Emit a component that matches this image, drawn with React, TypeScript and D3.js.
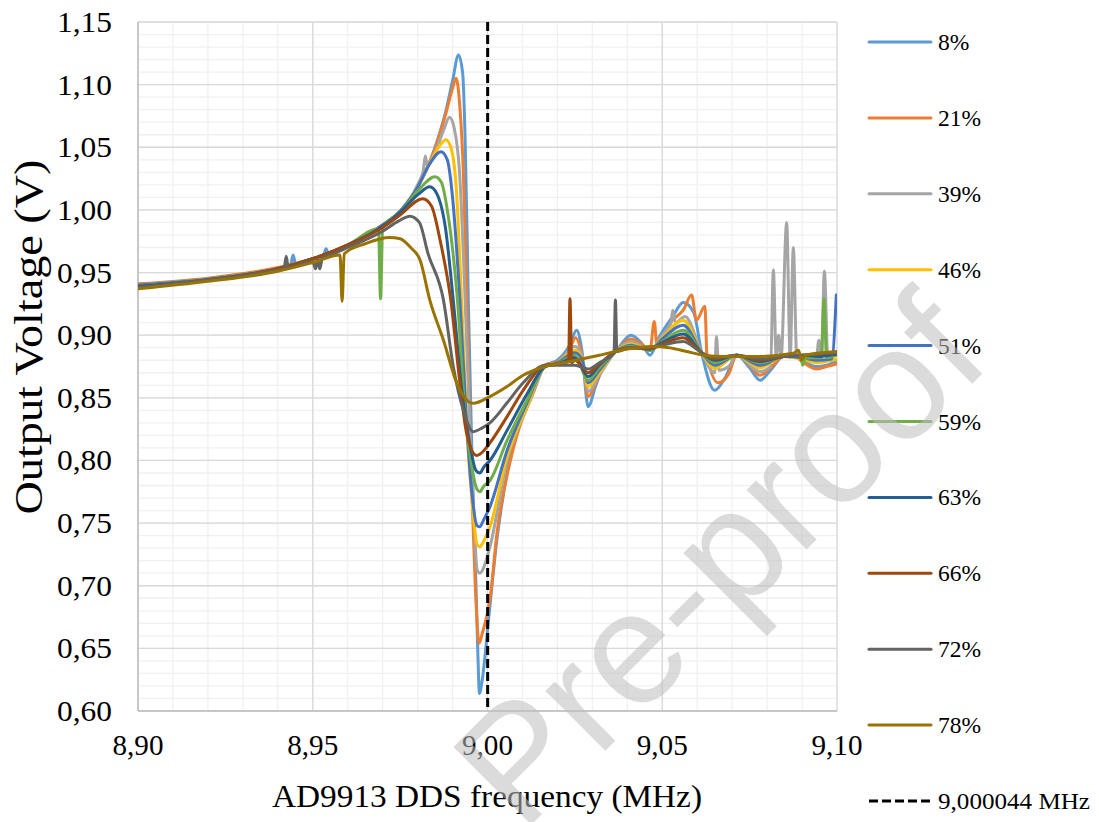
import React from "react";
import * as d3 from "d3";

type Pt = [number, number];

// ---- data (frequency MHz, output voltage V) ----
const s8: Pt[] = [
  [8.9, 0.94], [8.92, 0.9445], [8.94, 0.953], [8.9435, 0.9545], [8.9444, 0.964], [8.9452, 0.955],
  [8.95, 0.9605], [8.953, 0.963], [8.9538, 0.969], [8.9546, 0.964], [8.96, 0.972], [8.97, 0.988],
  [8.975, 0.999], [8.98, 1.018], [8.985, 1.05], [8.988, 1.078], [8.99, 1.103], [8.9917, 1.1237],
  [8.9929, 1.109], [8.9936, 1.056], [8.9942, 0.976], [8.9945, 0.928], [8.9956, 0.8], [8.9967, 0.7],
  [8.9972, 0.65], [8.9977, 0.614], [8.9985, 0.625], [9.0003, 0.673], [9.0027, 0.737], [9.0056, 0.79],
  [9.0094, 0.836], [9.0126, 0.851], [9.0165, 0.876], [9.02, 0.88], [9.0235, 0.892], [9.0255, 0.904],
  [9.027, 0.888], [9.0288, 0.843], [9.031, 0.86], [9.034, 0.88], [9.0367, 0.887], [9.041, 0.9],
  [9.044, 0.894], [9.0465, 0.884], [9.049, 0.898], [9.053, 0.915], [9.056, 0.926], [9.059, 0.918],
  [9.0613, 0.8855], [9.065, 0.856], [9.068, 0.866], [9.0713, 0.884], [9.075, 0.874], [9.078, 0.864],
  [9.081, 0.872], [9.0847, 0.883], [9.088, 0.883], [9.09, 0.88], [9.094, 0.875], [9.097, 0.876], [9.1, 0.879],
];
const s21: Pt[] = [
  [8.9, 0.941], [8.92, 0.9455], [8.94, 0.954], [8.95, 0.961], [8.96, 0.972], [8.97, 0.988], [8.975, 0.999],
  [8.98, 1.018], [8.985, 1.049], [8.988, 1.076], [8.99, 1.097], [8.991, 1.105], [8.9921, 1.082],
  [8.9931, 1.029], [8.9939, 0.95], [8.9952, 0.8], [8.9965, 0.7], [8.9976, 0.654], [8.9985, 0.662],
  [9.0007, 0.689], [9.0027, 0.742], [9.0064, 0.798], [9.0102, 0.835], [9.0122, 0.848], [9.0165, 0.876],
  [9.02, 0.879], [9.0235, 0.889], [9.0252, 0.898], [9.027, 0.884], [9.0288, 0.851], [9.031, 0.862],
  [9.034, 0.88], [9.0367, 0.887], [9.041, 0.897], [9.044, 0.893], [9.0465, 0.888], [9.0477, 0.911],
  [9.0485, 0.892], [9.053, 0.912], [9.056, 0.92], [9.0584, 0.932], [9.0598, 0.912], [9.0622, 0.923],
  [9.0628, 0.884], [9.066, 0.862], [9.069, 0.869], [9.0713, 0.884], [9.075, 0.876], [9.078, 0.868],
  [9.081, 0.874], [9.0847, 0.883], [9.088, 0.883], [9.09, 0.879], [9.094, 0.873], [9.097, 0.875], [9.1, 0.877],
];
const s39: Pt[] = [
  [8.9, 0.94], [8.92, 0.9448], [8.94, 0.953], [8.95, 0.961], [8.96, 0.972], [8.97, 0.988], [8.975, 0.999],
  [8.98, 1.02], [8.9816, 1.031], [8.9822, 1.043], [8.9828, 1.035], [8.985, 1.046], [8.9875, 1.064],
  [8.9891, 1.074], [8.9905, 1.065], [8.992, 1.03], [8.9936, 0.928], [8.995, 0.82], [8.9962, 0.75],
  [8.997, 0.713], [8.9978, 0.71], [8.9985, 0.712], [9.0007, 0.731], [9.0056, 0.8], [9.0113, 0.842],
  [9.0165, 0.875], [9.02, 0.878], [9.025, 0.891], [9.027, 0.884], [9.0288, 0.855], [9.032, 0.868],
  [9.0367, 0.887], [9.041, 0.895], [9.0465, 0.888], [9.05, 0.9], [9.0525, 0.91], [9.053, 0.92],
  [9.0538, 0.91], [9.0565, 0.915], [9.0613, 0.886], [9.065, 0.87], [9.0655, 0.899], [9.0662, 0.872],
  [9.069, 0.875], [9.0713, 0.884], [9.078, 0.871], [9.081, 0.875], [9.0818, 0.952], [9.0826, 0.882],
  [9.0833, 0.9], [9.084, 0.882], [9.0856, 0.99], [9.0866, 0.882], [9.0875, 0.97], [9.0885, 0.882],
  [9.09, 0.882], [9.094, 0.879], [9.0948, 0.896], [9.0955, 0.88], [9.0964, 0.951], [9.0974, 0.88], [9.1, 0.88],
];
const s46: Pt[] = [
  [8.9, 0.94], [8.92, 0.9447], [8.94, 0.953], [8.95, 0.961], [8.96, 0.972], [8.97, 0.988], [8.975, 0.999],
  [8.98, 1.018], [8.984, 1.04], [8.9865, 1.052], [8.9881, 1.056], [8.9895, 1.05], [8.991, 1.02],
  [8.9926, 0.928], [8.9942, 0.82], [8.9958, 0.76], [8.997, 0.733], [8.9978, 0.731], [8.9988, 0.735],
  [9.0007, 0.747], [9.0056, 0.803], [9.0113, 0.843], [9.0165, 0.875], [9.02, 0.878], [9.025, 0.888],
  [9.027, 0.882], [9.0288, 0.859], [9.032, 0.87], [9.0367, 0.887], [9.041, 0.893], [9.0465, 0.888],
  [9.05, 0.898], [9.056, 0.912], [9.0613, 0.886], [9.065, 0.8735], [9.0713, 0.884], [9.078, 0.874],
  [9.0847, 0.883], [9.09, 0.881], [9.094, 0.878], [9.1, 0.881],
];
const s51: Pt[] = [
  [8.9, 0.94], [8.92, 0.9447], [8.94, 0.953], [8.95, 0.961], [8.96, 0.972], [8.97, 0.988], [8.975, 0.999],
  [8.98, 1.018], [8.9835, 1.037], [8.9867, 1.0465], [8.9885, 1.04], [8.99, 1.01], [8.9921, 0.928],
  [8.9938, 0.84], [8.9955, 0.775], [8.997, 0.748], [8.9978, 0.747], [8.9988, 0.752], [9.0007, 0.763],
  [9.0056, 0.808], [9.0113, 0.846], [9.0165, 0.875], [9.02, 0.878], [9.025, 0.886], [9.027, 0.881],
  [9.0288, 0.862], [9.032, 0.872], [9.0367, 0.887], [9.041, 0.892], [9.0465, 0.888], [9.05, 0.897],
  [9.056, 0.908], [9.0613, 0.886], [9.065, 0.876], [9.0713, 0.884], [9.078, 0.876], [9.0847, 0.883],
  [9.09, 0.882], [9.094, 0.88], [9.0985, 0.881], [9.0998, 0.932],
];
const s59: Pt[] = [
  [8.9, 0.939], [8.92, 0.9443], [8.94, 0.953], [8.95, 0.961], [8.96, 0.972], [8.9688, 0.985],
  [8.9694, 0.929], [8.97, 0.986], [8.975, 0.998], [8.98, 1.015], [8.985, 1.0265], [8.9868, 1.022],
  [8.9885, 1.0], [8.9914, 0.928], [8.9935, 0.84], [8.9955, 0.795], [8.997, 0.777], [8.9978, 0.775],
  [8.9988, 0.779], [9.0007, 0.784], [9.0056, 0.816], [9.0113, 0.848], [9.0165, 0.875], [9.02, 0.877],
  [9.025, 0.884], [9.0288, 0.864], [9.032, 0.874], [9.0367, 0.887], [9.041, 0.891], [9.0465, 0.888],
  [9.05, 0.895], [9.056, 0.904], [9.0613, 0.886], [9.065, 0.878], [9.0713, 0.884], [9.078, 0.878],
  [9.0847, 0.883], [9.0895, 0.884], [9.0902, 0.876], [9.091, 0.882], [9.0955, 0.882], [9.0963, 0.929],
  [9.097, 0.882], [9.1, 0.884],
];
const s63: Pt[] = [
  [8.9, 0.939], [8.92, 0.9443], [8.94, 0.953], [8.95, 0.961], [8.96, 0.972], [8.97, 0.987], [8.975, 0.998],
  [8.98, 1.012], [8.9835, 1.0185], [8.9855, 1.013], [8.988, 0.985], [8.9902, 0.928], [8.9925, 0.86],
  [8.995, 0.812], [8.9967, 0.792], [8.9978, 0.79], [8.999, 0.795], [9.0007, 0.8], [9.0056, 0.824],
  [9.0113, 0.853], [9.0165, 0.875], [9.02, 0.877], [9.025, 0.882], [9.0288, 0.867], [9.032, 0.876],
  [9.0367, 0.887], [9.041, 0.89], [9.0465, 0.889], [9.05, 0.894], [9.056, 0.901], [9.0613, 0.886],
  [9.065, 0.88], [9.0713, 0.884], [9.078, 0.879], [9.0847, 0.883], [9.09, 0.884], [9.095, 0.883], [9.1, 0.885],
];
const s66: Pt[] = [
  [8.9, 0.938], [8.92, 0.944], [8.94, 0.953], [8.95, 0.961], [8.96, 0.972], [8.97, 0.986], [8.975, 0.996],
  [8.9815, 1.009], [8.984, 1.003], [8.9865, 0.975], [8.9895, 0.928], [8.9921, 0.862], [8.994, 0.822],
  [8.9969, 0.804], [8.999, 0.808], [9.0007, 0.814], [9.0056, 0.835], [9.0102, 0.856], [9.0165, 0.876],
  [9.02, 0.877], [9.0232, 0.879], [9.0236, 0.929], [9.0241, 0.878], [9.025, 0.88], [9.0288, 0.87],
  [9.032, 0.877], [9.0367, 0.887], [9.041, 0.89], [9.0465, 0.889], [9.05, 0.893], [9.056, 0.898],
  [9.0613, 0.886], [9.065, 0.881], [9.0713, 0.884], [9.078, 0.88], [9.0847, 0.883], [9.09, 0.884], [9.1, 0.886],
];
const s72: Pt[] = [
  [8.9, 0.938], [8.92, 0.944], [8.94, 0.952], [8.9418, 0.953], [8.9424, 0.963], [8.943, 0.954],
  [8.95, 0.959], [8.9508, 0.953], [8.9514, 0.96], [8.952, 0.953], [8.9528, 0.962], [8.955, 0.964],
  [8.96, 0.97], [8.97, 0.983], [8.9745, 0.991], [8.9778, 0.995], [8.9805, 0.99], [8.983, 0.965],
  [8.9874, 0.928], [8.9902, 0.875], [8.9931, 0.84], [8.9959, 0.823], [8.9985, 0.826], [9.0007, 0.83],
  [9.0056, 0.846], [9.0102, 0.862], [9.0165, 0.876], [9.02, 0.876], [9.025, 0.876], [9.0288, 0.873],
  [9.032, 0.878], [9.0362, 0.886], [9.0366, 0.928], [9.037, 0.887], [9.041, 0.89], [9.0465, 0.89],
  [9.05, 0.892], [9.056, 0.895], [9.0613, 0.886], [9.065, 0.882], [9.0713, 0.884], [9.078, 0.881],
  [9.0847, 0.883], [9.09, 0.884], [9.1, 0.886],
];
const s78: Pt[] = [
  [8.9, 0.937], [8.92, 0.943], [8.94, 0.951], [8.95, 0.958], [8.9578, 0.964], [8.9584, 0.927],
  [8.959, 0.965], [8.965, 0.973], [8.972, 0.978], [8.975, 0.977], [8.978, 0.97], [8.9807, 0.96],
  [8.9835, 0.928], [8.9874, 0.896], [8.9912, 0.862], [8.9959, 0.8456], [9.0007, 0.851], [9.0056, 0.859],
  [9.0102, 0.868], [9.0165, 0.875], [9.0236, 0.879], [9.032, 0.884], [9.04, 0.889], [9.047, 0.891],
  [9.052, 0.89], [9.057, 0.887], [9.0618, 0.884], [9.068, 0.883], [9.078, 0.883], [9.0875, 0.8855],
  [9.089, 0.888], [9.0898, 0.88], [9.091, 0.884], [9.1, 0.887],
];

const seriesLabels = ["8%", "21%", "39%", "46%", "51%", "59%", "63%", "66%", "72%", "78%"];
const seriesColors = ["#5B9BD5", "#ED7D31", "#A5A5A5", "#FFC000", "#4472C4", "#70AD47", "#255E91", "#9E480E", "#636363", "#997300"];
const seriesData = [s8, s21, s39, s46, s51, s59, s63, s66, s72, s78];

const markerFreq = 9.000044;
const markerLabel = "9,000044 MHz";
const freqTicks = [8.9, 8.95, 9.0, 9.05, 9.1];
const voltTicks = [0.6, 0.65, 0.7, 0.75, 0.8, 0.85, 0.9, 0.95, 1.0, 1.05, 1.1, 1.15];
const xTitle = "AD9913 DDS frequency (MHz)";
const yTitle = "Output Voltage (V)";
const watermark = "Pre-proof";

const W = 1099;
const H = 822;
const plot = { left: 138, right: 837, top: 22, bottom: 711 };
const SERIF = "'Times New Roman', Times, Tinos, 'Liberation Serif', 'Nimbus Roman', serif";

export default function App() {
  const x = d3.scaleLinear().domain([8.9, 9.1]).range([plot.left, plot.right]);
  const y = d3.scaleLinear().domain([0.6, 1.15]).range([plot.bottom, plot.top]);
  const line = d3
    .line<Pt>()
    .x((d) => x(d[0]))
    .y((d) => y(d[1]))
    .curve(d3.curveMonotoneX);

  const minorX = d3.range(0, 21).map((i) => 8.9 + i * 0.01);
  const minorY = d3.range(0, 56).map((i) => 0.6 + i * 0.01);
  const fmt = (v: number) => v.toFixed(2).replace(".", ",");

  const legendTop = 42;
  const legendStep = 75.9;
  const serif = { fontFamily: SERIF };

  return (
    <svg width={W} height={H} style={{ position: "absolute", left: 0, top: 0, background: "#fff" }}>
      <defs>
        <clipPath id="plotclip">
          <rect x={plot.left} y={plot.top - 2} width={plot.right - plot.left} height={plot.bottom - plot.top + 4} />
        </clipPath>
      </defs>
      <rect x={0} y={0} width={W} height={H} fill="#fff" />
      {/* minor gridlines */}
      <g stroke="#f0f0f0" strokeWidth={1.3}>
        {minorX.map((v, i) => (
          <line key={"mx" + i} x1={x(v)} x2={x(v)} y1={plot.top} y2={plot.bottom} />
        ))}
        {minorY.map((v, i) => (
          <line key={"my" + i} x1={plot.left} x2={plot.right} y1={y(v)} y2={y(v)} />
        ))}
      </g>
      {/* major gridlines */}
      <g stroke="#d9d9d9" strokeWidth={1.3}>
        {freqTicks.map((v, i) => (
          <line key={"Mx" + i} x1={x(v)} x2={x(v)} y1={plot.top} y2={plot.bottom} />
        ))}
        {voltTicks.map((v, i) => (
          <line key={"My" + i} x1={plot.left} x2={plot.right} y1={y(v)} y2={y(v)} />
        ))}
      </g>
      {/* axes */}
      <line x1={plot.left} x2={plot.right} y1={plot.bottom} y2={plot.bottom} stroke="#bfbfbf" strokeWidth={1.5} />
      <line x1={plot.left} x2={plot.left} y1={plot.top} y2={plot.bottom} stroke="#bfbfbf" strokeWidth={1.5} />

      {/* series */}
      <g clipPath="url(#plotclip)" fill="none" strokeWidth={3} strokeLinejoin="round" strokeLinecap="round">
        {seriesData.map((d, i) => (
          <path key={"s" + i} d={line(d) || ""} stroke={seriesColors[i]} />
        ))}
      </g>
      {/* marker line */}
      <line
        x1={x(markerFreq)}
        x2={x(markerFreq)}
        y1={plot.top}
        y2={plot.bottom}
        stroke="#000"
        strokeWidth={3}
        strokeDasharray="9,4"
      />

      {/* tick labels */}
      <g fill="#000">
        {voltTicks.map((v, i) => (
          <text key={"yl" + i} x={112} y={y(v) + 10} textAnchor="end" style={{ ...serif, fontSize: 29 }} textLength={55} lengthAdjust="spacingAndGlyphs">
            {fmt(v)}
          </text>
        ))}
        {freqTicks.map((v, i) => (
          <text key={"xl" + i} x={x(v)} y={755} textAnchor="middle" style={{ ...serif, fontSize: 29 }} textLength={51} lengthAdjust="spacingAndGlyphs">
            {fmt(v)}
          </text>
        ))}
      </g>
      {/* axis titles */}
      <text x={487} y={807} textAnchor="middle" style={{ ...serif, fontSize: 31 }} textLength={430} lengthAdjust="spacingAndGlyphs">
        {xTitle}
      </text>
      <text
        transform={`translate(42, 337) rotate(-90)`}
        textAnchor="middle"
        style={{ ...serif, fontSize: 40 }}
        textLength={355}
        lengthAdjust="spacingAndGlyphs"
      >
        {yTitle}
      </text>

      {/* legend */}
      <g>
        {seriesLabels.map((lab, i) => {
          const ly = legendTop + i * legendStep;
          return (
            <g key={"lg" + i}>
              <line x1={869} x2={931} y1={ly} y2={ly} stroke={seriesColors[i]} strokeWidth={3} strokeLinecap="round" />
              <text x={938} y={ly + 8} style={{ ...serif, fontSize: 23.5 }}>
                {lab}
              </text>
            </g>
          );
        })}
        <g>
          <line
            x1={869}
            x2={931}
            y1={legendTop + 10 * legendStep}
            y2={legendTop + 10 * legendStep}
            stroke="#000"
            strokeWidth={3}
            strokeDasharray="9,4"
          />
          <text x={938} y={legendTop + 10 * legendStep + 8} style={{ ...serif, fontSize: 23.5 }} textLength={152} lengthAdjust="spacingAndGlyphs">
            {markerLabel}
          </text>
        </g>
      </g>

      {/* watermark */}
      <text
        transform="translate(522, 834) rotate(-45)"
        style={{ fontFamily: "'Liberation Sans', Arial, sans-serif", fontSize: 160 }}
        fill="#bfbfbf"
        opacity={0.55}
      >
        {watermark}
      </text>
    </svg>
  );
}
